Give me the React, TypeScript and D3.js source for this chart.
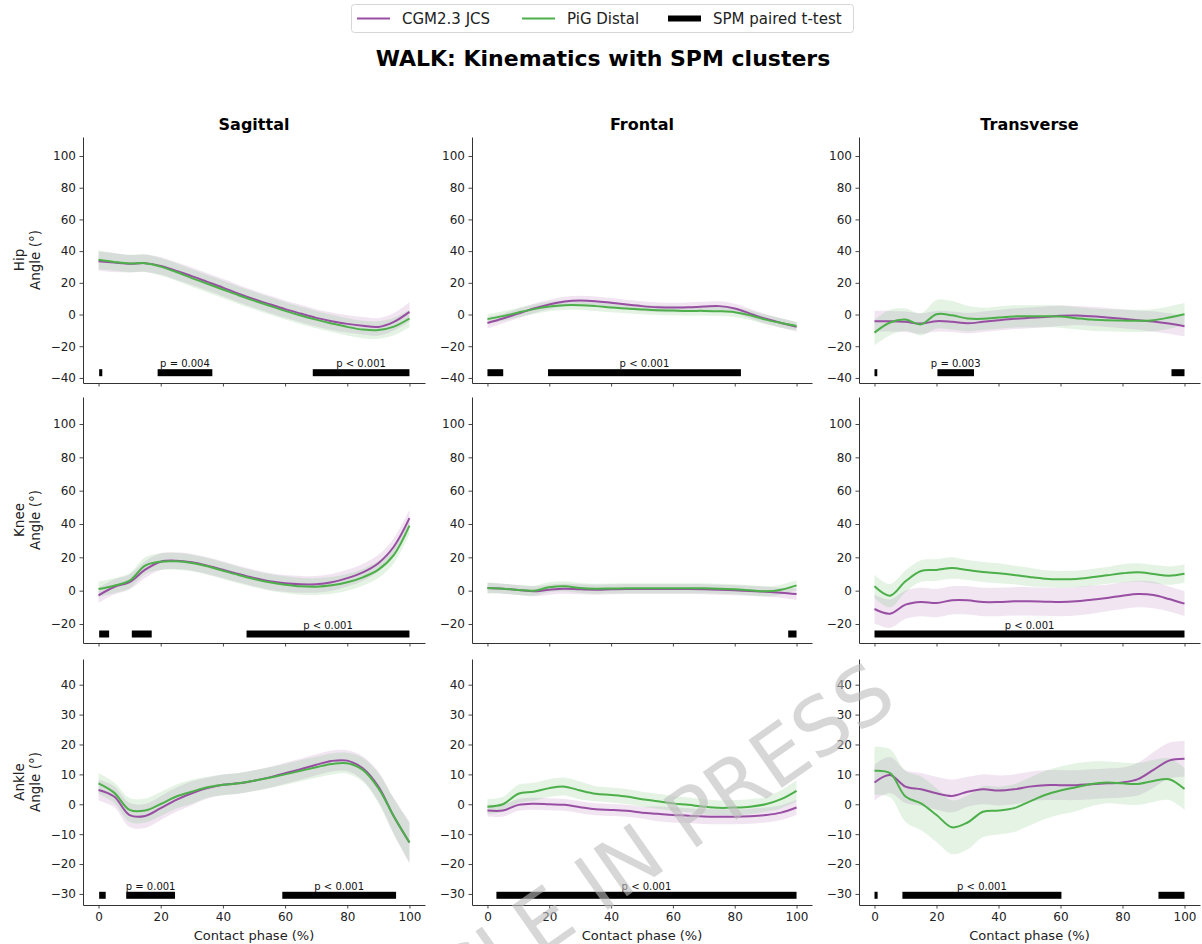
import React, { useEffect, useRef } from "react";
import * as d3 from "d3";

// contact phase samples (%)
const phase = [0, 5, 10, 15, 20, 25, 30, 35, 40, 45, 50, 55, 60, 65, 70, 75, 80, 85, 90, 95, 100];

// Hip
const hipSagCgm = [33.6, 32.8, 32.0, 32.4, 30.7, 27.5, 24.2, 20.6, 17.0, 13.2, 9.7, 6.5, 3.4, 0.6, -2.1, -4.2, -5.9, -7.1, -7.8, -4.6, 1.7];
const hipSagCgmSd = [6, 6, 5.5, 5.5, 5.5, 5.5, 5.5, 5.5, 5.5, 5.5, 5.5, 5.5, 5.5, 5.5, 5.5, 5.5, 5.5, 5.5, 5.5, 5.5, 6];
const hipSagPig = [34.5, 33.2, 32.2, 32.4, 30.2, 26.8, 23.0, 19.4, 15.8, 12.2, 8.8, 5.5, 2.3, -0.6, -3.2, -5.6, -7.8, -9.5, -9.8, -7.6, -2.5];
const hipSagPigSd = [6, 5.5, 5.5, 5.5, 5.5, 5.5, 5.5, 5.5, 5.5, 5.5, 5.5, 5.5, 5.5, 5.5, 5.5, 5.5, 5.5, 5.5, 5.5, 5.5, 5.5];

const hipFrontCgm = [-5.3, -2.5, 0.6, 3.8, 6.3, 8.2, 8.8, 8.4, 7.4, 6.3, 5.3, 4.6, 4.4, 4.6, 5.0, 5.3, 3.8, 0.6, -2.7, -5.3, -7.8];
const hipFrontCgmSd = [3.5, 3, 3, 3, 3, 3, 3, 3, 3, 3, 3, 3, 3, 3, 3, 3, 3, 3, 3, 3, 3];
const hipFrontPig = [-2.9, -1.0, 1.3, 3.4, 5.0, 5.9, 5.9, 5.3, 4.4, 3.8, 3.2, 2.7, 2.5, 2.3, 2.3, 2.1, 1.5, -0.4, -3.2, -5.3, -7.2];
const hipFrontPigSd = [3, 3, 3, 3, 3, 3, 3, 3, 3, 3, 3, 3, 3, 3, 3, 3, 3, 3, 3, 3, 2.5];

const hipTransCgm = [-4.2, -4.2, -4.6, -5.7, -4.2, -4.6, -5.5, -4.6, -3.6, -2.7, -2.1, -1.5, -0.8, -0.6, -1.1, -1.9, -2.7, -3.6, -4.4, -5.7, -7.4];
const hipTransCgmSd = [6.5, 6.5, 6.5, 6.5, 6.5, 6.5, 6.5, 6.5, 6.5, 6.5, 6.5, 6.5, 6.5, 6, 6, 6, 6, 6, 6.5, 6.5, 6.5];
const hipTransPig = [-11.4, -5.0, -3.2, -6.2, 0.2, -0.5, -2.5, -2.7, -1.9, -1.2, -1.1, -1.1, -1.3, -2.3, -3.2, -3.6, -3.8, -4.0, -3.6, -1.9, 0.2];
const hipTransPigSd = [8, 8, 7, 7, 9, 9, 8, 7, 7, 7, 7, 7, 7, 7, 7, 7, 7, 7, 7, 7, 7];

// Knee
const kneeSagCgm = [-2.8, 2.2, 5.2, 12.6, 17.4, 18.0, 17.0, 15.0, 12.6, 10.0, 7.6, 5.6, 4.4, 3.8, 3.8, 5.0, 7.5, 11.0, 16.5, 26.5, 43.5];
const kneeSagCgmSd = [4.5, 4.5, 4.5, 5, 5, 5, 5, 5, 5, 5, 5, 5, 5, 5, 5, 5, 5, 5, 5, 5, 5];
const kneeSagPig = [1.0, 3.0, 6.0, 15.0, 17.4, 17.6, 16.6, 14.6, 12.0, 9.4, 7.0, 5.0, 3.6, 2.6, 2.4, 3.2, 5.0, 8.0, 12.6, 21.5, 39.0];
const kneeSagPigSd = [4.5, 4.5, 4.5, 5, 5, 5, 5, 5, 5, 5, 5, 5, 5, 5, 5, 5, 5, 5, 5, 5, 5];

const kneeFrontCgm = [1.6, 1.2, 0.4, -0.4, 0.6, 1.2, 0.8, 0.6, 0.8, 1.0, 1.0, 1.0, 1.0, 1.0, 0.9, 0.6, 0.2, -0.2, -0.6, -1.2, -2.0];
const kneeFrontCgmSd = [3, 3, 3, 3, 3, 3, 3, 3, 3, 3, 3, 3, 3, 3, 3, 3, 3, 3, 3, 3, 3.5];
const kneeFrontPig = [1.6, 1.2, 0.4, 0.0, 2.0, 2.6, 1.6, 1.2, 1.3, 1.4, 1.4, 1.4, 1.4, 1.4, 1.4, 1.2, 0.8, 0.2, -0.4, 0.6, 3.2];
const kneeFrontPigSd = [3.5, 3, 3, 3, 3, 3, 3, 3, 3, 3, 3, 3, 3, 3, 3, 3, 3, 3, 3, 3, 3];

const kneeTransCgm = [-11.0, -13.8, -8.4, -6.8, -7.4, -5.8, -5.8, -6.8, -6.8, -6.4, -6.4, -6.6, -6.8, -6.4, -5.4, -4.4, -3.0, -2.0, -2.6, -5.0, -7.8];
const kneeTransCgmSd = [8.5, 8.5, 8.5, 8.5, 8.5, 8.5, 8.5, 8.5, 8.5, 8.5, 8.5, 8.5, 8.5, 8.5, 8.5, 8, 8, 8, 8, 7.5, 7.5];
const kneeTransPig = [2.6, -3.0, 5.6, 11.8, 12.4, 13.6, 12.4, 11.2, 10.4, 9.4, 8.2, 7.2, 6.8, 7.0, 8.0, 9.2, 10.4, 11.0, 10.0, 9.0, 10.2];
const kneeTransPigSd = [7, 7, 6.5, 6.5, 6.5, 6.5, 6, 6, 6, 5.5, 5.5, 5, 5, 5, 5, 5, 5.5, 5.5, 5.5, 5.5, 5.5];

// Ankle
const ankleSagCgm = [4.8, 2.6, -3.6, -3.9, -1.3, 1.5, 3.7, 5.4, 6.5, 7.0, 7.9, 9.0, 10.4, 11.7, 13.2, 14.5, 14.6, 12.0, 5.9, -4.1, -12.8];
const ankleSagCgmSd = [3.5, 3.5, 4, 4, 4, 4, 4, 3.5, 3.5, 3.5, 3.5, 3.5, 3.5, 3.5, 3.5, 3.5, 3.5, 4, 5, 6, 7];
const ankleSagPig = [7.0, 3.9, -1.9, -2.1, 0.1, 2.6, 4.2, 5.7, 6.5, 7.0, 7.9, 8.9, 10.0, 11.2, 12.4, 13.5, 13.7, 11.5, 5.4, -4.1, -12.8];
const ankleSagPigSd = [3.5, 3.5, 4, 4, 4, 4, 4, 3.5, 3.5, 3.5, 3.5, 3.5, 3.5, 3.5, 3.5, 3.5, 3.5, 4, 5, 6, 6.5];

const ankleFrontCgm = [-2.1, -2.1, -0.2, 0.2, 0.0, -0.2, -1.0, -1.7, -1.9, -2.2, -2.8, -3.2, -3.6, -3.8, -4.1, -4.2, -4.2, -4.0, -3.6, -2.8, -1.1];
const ankleFrontCgmSd = [2, 2, 2, 2, 2, 2, 2, 2, 2, 2, 2, 2.5, 2.5, 2.5, 2.5, 2.5, 2.5, 2.5, 2.5, 2.5, 2.5];
const ankleFrontPig = [-0.8, 0.0, 3.5, 4.2, 5.4, 5.9, 4.6, 3.5, 3.1, 2.6, 1.7, 1.0, 0.3, -0.2, -0.8, -1.2, -1.1, -0.8, 0.0, 1.7, 4.5];
const ankleFrontPigSd = [2.5, 2.5, 3, 3, 3, 3, 3, 2.5, 2.5, 2.5, 2.5, 2.5, 2.5, 2.5, 2.5, 2.5, 2.5, 2.5, 2.5, 3, 3.5];

const ankleTransCgm = [7.3, 9.8, 5.9, 5.0, 3.7, 2.8, 4.2, 5.0, 4.6, 5.0, 5.9, 6.4, 6.4, 6.4, 6.7, 7.0, 7.3, 8.4, 11.5, 14.6, 15.2];
const ankleTransCgmSd = [6, 6, 5.5, 5.5, 5.5, 5.5, 5, 5, 5, 5, 5, 5, 5, 5, 5, 5, 5, 5.5, 6, 6, 6];
const ankleTransPig = [11.2, 10.4, 2.6, 0.3, -3.6, -7.7, -6.1, -2.5, -2.1, -1.3, 0.9, 3.1, 4.6, 5.7, 6.8, 7.3, 7.0, 6.8, 7.8, 8.4, 5.1];
const ankleTransPigSd = [8, 8, 8.5, 9, 9, 9, 9, 8.5, 8, 8, 8, 8, 8, 8, 7.5, 7, 7, 7, 7, 7, 7];

// SPM clusters: [start %, end %, label]
const hipSagSpm = [[0.2, 1.2, ""], [19, 36.6, "p = 0.004"], [68.9, 100, "p < 0.001"]];
const hipFrontSpm = [[0, 5.1, ""], [19.6, 82, "p < 0.001"]];
const hipTransSpm = [[0, 0.9, ""], [20.3, 32.1, "p = 0.003"], [95.8, 100, ""]];
const kneeSagSpm = [[0.2, 3.4, ""], [10.7, 17.1, ""], [47.6, 100, "p < 0.001"]];
const kneeFrontSpm = [[97.3, 100, ""]];
const kneeTransSpm = [[0, 100, "p < 0.001"]];
const ankleSagSpm = [[0.2, 2.3, ""], [8.9, 24.6, "p = 0.001"], [59.1, 95.7, "p < 0.001"]];
const ankleFrontSpm = [[2.9, 100, "p < 0.001"]];
const ankleTransSpm = [[0, 1, ""], [9, 60.3, "p < 0.001"], [91.6, 100, ""]];

const rowNames = ["Hip", "Knee", "Ankle"];
const colNames = ["Sagittal", "Frontal", "Transverse"];
const rowYLim = [[-43.2, 112], [-31.4, 116.2], [-33.7, 48.6]];
const rowTicks = [[-40, -20, 0, 20, 40, 60, 80, 100], [-20, 0, 20, 40, 60, 80, 100], [-30, -20, -10, 0, 10, 20, 30, 40]];
const rowSpmLevel = [-36.7, -26, -30.45];
const xTicks = [0, 20, 40, 60, 80, 100];

const CGM_COLOR = "#984ea3";
const PIG_COLOR = "#4daf4a";
const FONT = "DejaVu Sans, sans-serif";

function App() {
  const svgRef = useRef(null);

  useEffect(() => {
    drawFigure();
  }, []);

  const drawFigure = () => {
    const svg = d3.select(svgRef.current);
    svg.selectAll("*").remove();

    const panels = [
      [
        { cgm: hipSagCgm, cgmSd: hipSagCgmSd, pig: hipSagPig, pigSd: hipSagPigSd, spm: hipSagSpm },
        { cgm: hipFrontCgm, cgmSd: hipFrontCgmSd, pig: hipFrontPig, pigSd: hipFrontPigSd, spm: hipFrontSpm },
        { cgm: hipTransCgm, cgmSd: hipTransCgmSd, pig: hipTransPig, pigSd: hipTransPigSd, spm: hipTransSpm },
      ],
      [
        { cgm: kneeSagCgm, cgmSd: kneeSagCgmSd, pig: kneeSagPig, pigSd: kneeSagPigSd, spm: kneeSagSpm },
        { cgm: kneeFrontCgm, cgmSd: kneeFrontCgmSd, pig: kneeFrontPig, pigSd: kneeFrontPigSd, spm: kneeFrontSpm },
        { cgm: kneeTransCgm, cgmSd: kneeTransCgmSd, pig: kneeTransPig, pigSd: kneeTransPigSd, spm: kneeTransSpm },
      ],
      [
        { cgm: ankleSagCgm, cgmSd: ankleSagCgmSd, pig: ankleSagPig, pigSd: ankleSagPigSd, spm: ankleSagSpm },
        { cgm: ankleFrontCgm, cgmSd: ankleFrontCgmSd, pig: ankleFrontPig, pigSd: ankleFrontPigSd, spm: ankleFrontSpm },
        { cgm: ankleTransCgm, cgmSd: ankleTransCgmSd, pig: ankleTransPig, pigSd: ankleTransPigSd, spm: ankleTransSpm },
      ],
    ];

    // axes boxes in pixels
    const colX = [[83, 425], [472, 812], [859, 1200]];
    const rowY = [[137, 383], [397, 643], [659, 905]];

    const curve = d3.curveCatmullRom.alpha(0.5);
    const fmt = d3.format("d");

    panels.forEach((row, r) => {
      row.forEach((p, c) => {
        const x = d3.scaleLinear().domain([-5, 105]).range(colX[c]);
        const y = d3.scaleLinear().domain(rowYLim[r]).range([rowY[r][1], rowY[r][0]]);
        const g = svg.append("g");

        const band = (mean, sd) =>
          d3.area()
            .x((d, i) => x(phase[i]))
            .y0((d, i) => y(mean[i] - sd[i]))
            .y1((d, i) => y(mean[i] + sd[i]))
            .curve(curve)(mean);
        const line = (mean) =>
          d3.line()
            .x((d, i) => x(phase[i]))
            .y((d) => y(d))
            .curve(curve)(mean);

        g.append("path").attr("d", band(p.cgm, p.cgmSd)).attr("fill", CGM_COLOR).attr("opacity", 0.15);
        g.append("path").attr("d", band(p.pig, p.pigSd)).attr("fill", PIG_COLOR).attr("opacity", 0.15);
        g.append("path").attr("d", line(p.cgm)).attr("fill", "none").attr("stroke", CGM_COLOR).attr("stroke-width", 2);
        g.append("path").attr("d", line(p.pig)).attr("fill", "none").attr("stroke", PIG_COLOR).attr("stroke-width", 2);

        // SPM clusters
        const level = y(rowSpmLevel[r]);
        p.spm.forEach(([a, b, label]) => {
          g.append("rect")
            .attr("x", x(a))
            .attr("y", level - 3.5)
            .attr("width", Math.max(x(b) - x(a), 2))
            .attr("height", 7)
            .attr("fill", "#000");
          if (label) {
            g.append("text")
              .attr("x", x((a + b) / 2))
              .attr("y", level - 5.5)
              .attr("text-anchor", "middle")
              .style("font-family", FONT)
              .style("font-size", "10px")
              .attr("fill", "#111")
              .text(label);
          }
        });

        // axes (left + bottom spines only)
        const yAxis = g.append("g")
          .attr("transform", `translate(${colX[c][0]},0)`)
          .call(d3.axisLeft(y).tickValues(rowTicks[r]).tickFormat(fmt).tickSize(3.5).tickSizeOuter(0).tickPadding(3.5));
        const xAxis = g.append("g")
          .attr("transform", `translate(0,${rowY[r][1]})`)
          .call(d3.axisBottom(x).tickValues(xTicks).tickFormat(r === 2 ? fmt : () => "").tickSize(3.5).tickSizeOuter(0).tickPadding(3.5));
        [yAxis, xAxis].forEach((ax) => {
          ax.select(".domain").attr("stroke", "#333").attr("stroke-width", 1);
          ax.selectAll(".tick line").attr("stroke", "#333").attr("stroke-width", 0.9);
          ax.selectAll(".tick text").style("font-family", FONT).style("font-size", "12px").attr("fill", "#222");
        });

        if (r === 0) {
          g.append("text")
            .attr("x", (colX[c][0] + colX[c][1]) / 2)
            .attr("y", 130)
            .attr("text-anchor", "middle")
            .style("font-family", FONT)
            .style("font-size", "16px")
            .style("font-weight", "bold")
            .text(colNames[c]);
        }
        if (r === 2) {
          g.append("text")
            .attr("x", (colX[c][0] + colX[c][1]) / 2)
            .attr("y", 940)
            .attr("text-anchor", "middle")
            .style("font-family", FONT)
            .style("font-size", "13px")
            .attr("fill", "#222")
            .text("Contact phase (%)");
        }
        if (c === 0) {
          const cy = (rowY[r][0] + rowY[r][1]) / 2;
          [[23.5, rowNames[r]], [40, "Angle (°)"]].forEach(([bx, txt]) => {
            g.append("text")
              .attr("transform", `translate(${bx},${cy}) rotate(-90)`)
              .attr("text-anchor", "middle")
              .style("font-family", FONT)
              .style("font-size", "13.5px")
              .attr("fill", "#222")
              .text(txt);
          });
        }
      });
    });

    // figure title
    svg.append("text")
      .attr("x", 603)
      .attr("y", 66)
      .attr("text-anchor", "middle")
      .style("font-family", FONT)
      .style("font-size", "22px")
      .style("font-weight", "bold")
      .text("WALK: Kinematics with SPM clusters");

    // legend
    const lg = svg.append("g");
    lg.append("rect")
      .attr("x", 351.5).attr("y", 4.5).attr("width", 502).attr("height", 28).attr("rx", 3)
      .attr("fill", "#fff").attr("stroke", "#d6d6d6");
    const items = [
      { x: 357, label: "CGM2.3 JCS", color: CGM_COLOR, w: 2 },
      { x: 522, label: "PiG Distal", color: PIG_COLOR, w: 2 },
      { x: 668, label: "SPM paired t-test", color: "#000", w: 6 },
    ];
    items.forEach((it) => {
      lg.append("line")
        .attr("x1", it.x).attr("x2", it.x + 33).attr("y1", 18.5).attr("y2", 18.5)
        .attr("stroke", it.color).attr("stroke-width", it.w);
      lg.append("text")
        .attr("x", it.x + 45).attr("y", 24)
        .style("font-family", FONT).style("font-size", "15px").attr("fill", "#222")
        .text(it.label);
    });

    // watermark
    svg.append("text")
      .attr("transform", "translate(900,705) rotate(-35)")
      .attr("text-anchor", "end")
      .style("font-family", FONT)
      .style("font-size", "80px")
      .attr("fill", "#bdbdbd")
      .attr("opacity", 0.6)
      .text("ARTICLE IN PRESS");
  };

  return (
    <svg
      ref={svgRef}
      width={1202}
      height={944}
      style={{ position: "absolute", left: 0, top: 0, background: "#fff" }}
    />
  );
}

export default App;
